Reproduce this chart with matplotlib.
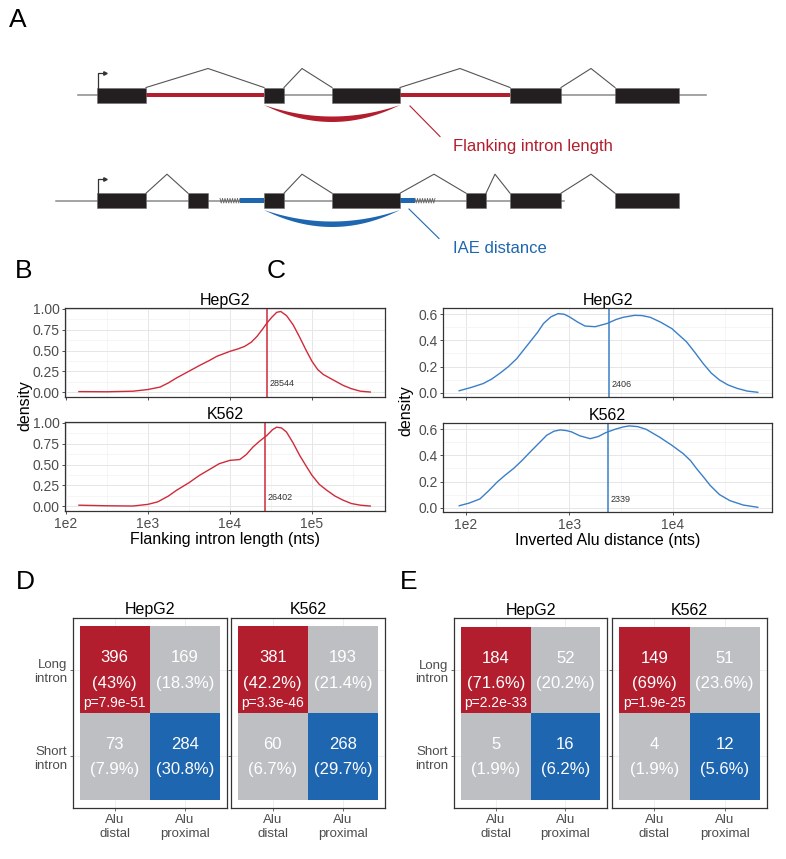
import numpy as np
import matplotlib
matplotlib.use('Agg')
import matplotlib.pyplot as plt

plt.rcParams['font.family'] = ['Liberation Sans', 'DejaVu Sans']

W, H = 786, 859

# ---------------- data ----------------
# panel A gene models (x start, width) in diagram units
row1_exons = [(97, 49), (264, 20), (332, 68), (510, 51), (615, 64)]
row1_flank = [(146, 118), (400, 110)]
row1_hats = [(146, 208, 264), (284, 302, 332), (400, 460, 510), (561, 591, 615)]
row2_exons = [(97, 49), (188, 20), (264, 20), (332, 68), (466, 20), (510, 51), (615, 64)]
row2_iae = [(240, 24), (400, 15)]
row2_hats = [(146, 167, 188), (284, 302, 332), (400, 434, 466), (486, 495, 510), (561, 591, 615)]

# panel B: flanking intron length density (x = log10 nts)
flank_hep_x = [2.16, 2.5, 2.82, 3.0, 3.15, 3.25, 3.35, 3.5, 3.63, 3.75, 3.84, 3.92, 4.0, 4.1, 4.18,
               4.26, 4.33, 4.4, 4.45, 4.51, 4.57, 4.62, 4.69, 4.77, 4.85, 4.93, 5.0, 5.07, 5.14,
               5.25, 5.38, 5.48, 5.59, 5.71]
flank_hep_y = [0.005, 0.003, 0.01, 0.03, 0.06, 0.11, 0.17, 0.25, 0.32, 0.38, 0.43, 0.46, 0.49, 0.52,
               0.55, 0.6, 0.67, 0.76, 0.83, 0.9, 0.96, 0.97, 0.92, 0.81, 0.66, 0.5, 0.37, 0.27, 0.21,
               0.15, 0.08, 0.04, 0.01, 0.0]
flank_k562_x = [2.16, 2.5, 2.82, 3.0, 3.12, 3.25, 3.35, 3.5, 3.63, 3.75, 3.87, 4.0, 4.12, 4.2, 4.28,
                4.36, 4.45, 4.52, 4.57, 4.63, 4.69, 4.77, 4.85, 4.93, 5.0, 5.09, 5.18, 5.28, 5.38,
                5.48, 5.59, 5.71]
flank_k562_y = [0.01, 0.003, 0.0, 0.02, 0.05, 0.12, 0.19, 0.28, 0.37, 0.44, 0.51, 0.55, 0.56, 0.62,
                0.71, 0.78, 0.85, 0.92, 0.95, 0.94, 0.89, 0.76, 0.61, 0.48, 0.37, 0.26, 0.19, 0.12,
                0.07, 0.03, 0.01, 0.0]
flank_median = [28544, 26402]

# panel C: inverted Alu distance density (x = log10 nts)
iae_hep_x = [1.935, 2.05, 2.167, 2.25, 2.33, 2.41, 2.49, 2.55, 2.62, 2.69, 2.75, 2.82, 2.89, 2.95,
             3.0, 3.08, 3.15, 3.25, 3.365, 3.45, 3.52, 3.63, 3.7, 3.78, 3.88, 3.99, 4.06, 4.13,
             4.21, 4.29, 4.37, 4.45, 4.53, 4.62, 4.72, 4.82]
iae_hep_y = [0.015, 0.04, 0.07, 0.105, 0.15, 0.2, 0.26, 0.32, 0.39, 0.46, 0.53, 0.58, 0.605, 0.6,
             0.58, 0.54, 0.51, 0.505, 0.53, 0.56, 0.577, 0.592, 0.59, 0.577, 0.54, 0.49, 0.44,
             0.39, 0.31, 0.225, 0.15, 0.097, 0.06, 0.033, 0.012, 0.003]
iae_k562_x = [1.935, 2.03, 2.135, 2.22, 2.3, 2.38, 2.46, 2.54, 2.62, 2.7, 2.78, 2.85, 2.91, 2.97,
              3.02, 3.1, 3.2, 3.28, 3.35, 3.44, 3.52, 3.58, 3.66, 3.74, 3.87, 3.99, 4.1, 4.17,
              4.23, 4.3, 4.36, 4.45, 4.55, 4.68, 4.82]
iae_k562_y = [0.015, 0.035, 0.067, 0.13, 0.195, 0.25, 0.3, 0.36, 0.426, 0.49, 0.554, 0.585, 0.595,
              0.59, 0.58, 0.55, 0.528, 0.545, 0.574, 0.6, 0.618, 0.626, 0.62, 0.6, 0.54, 0.477,
              0.413, 0.36, 0.297, 0.23, 0.17, 0.1, 0.054, 0.02, 0.003]
iae_median = [2406, 2339]

# panels D / E: 2x2 tables (rows: long/short intron, cols: Alu distal/proximal)
cells = ['HepG2', 'K562']
row_labels = ['Long\nintron', 'Short\nintron']
col_labels = ['Alu\ndistal', 'Alu\nproximal']
d_hep_n = [[396, 169], [73, 284]]
d_hep_pct = [['43%', '18.3%'], ['7.9%', '30.8%']]
d_hep_p = 'p=7.9e-51'
d_k562_n = [[381, 193], [60, 268]]
d_k562_pct = [['42.2%', '21.4%'], ['6.7%', '29.7%']]
d_k562_p = 'p=3.3e-46'
e_hep_n = [[184, 52], [5, 16]]
e_hep_pct = [['71.6%', '20.2%'], ['1.9%', '6.2%']]
e_hep_p = 'p=2.2e-33'
e_k562_n = [[149, 51], [4, 12]]
e_k562_pct = [['69%', '23.6%'], ['1.9%', '5.6%']]
e_k562_p = 'p=1.9e-25'

RED = '#B21E2E'
BLUE = '#1F66B0'
GREY = '#BEBFC3'
RED_LINE = '#D02A3A'
BLUE_LINE = '#3A7FC8'
EXON = '#231F20'
TXT = '#4D4D4D'


def px_axes(x0, y0, x1, y1):
    return fig.add_axes([x0 / W, 1 - y1 / H, (x1 - x0) / W, (y1 - y0) / H])


fig = plt.figure(figsize=(W / 100, H / 100), dpi=100)

# ---------------- panel A ----------------
ax = px_axes(0, 40, W, 262)
ax.set_xlim(0, W)
ax.set_ylim(262, 40)
ax.axis('off')


def gene_row(yc, x0, x1, exons, bars, bar_color, hats):
    ax.plot([x0, x1], [yc, yc], color='#8A8A8A', lw=1.1, zorder=1)
    ax.broken_barh(bars, (yc - 2.3, 4.6), facecolors=bar_color, zorder=2)
    ax.broken_barh(exons, (yc - 7.5, 15), facecolors=EXON, edgecolors='#6E6E6E', lw=0.4, zorder=3)
    for a, m, b in hats:
        ax.plot([a, m, b], [yc - 7.5, yc - 26.5, yc - 7.5], color='#555555', lw=0.8, zorder=1)
    # TSS arrow
    ax.plot([97.5, 97.5, 104], [yc - 7.5, yc - 22, yc - 22], color='#333333', lw=0.9, zorder=3)
    ax.plot([105], [yc - 22], marker='>', ms=2.5, color='#333333', zorder=3)


def crescent(x0, x1, y_end, depth_top, depth_bot, color):
    t = np.linspace(-1, 1, 60)
    xs = x0 + (t + 1) / 2 * (x1 - x0)
    top = y_end + depth_top * (1 - t ** 2)
    bot = y_end + depth_bot * (1 - t ** 2)
    ax.fill(np.r_[xs, xs[::-1]], np.r_[top, bot[::-1]], color=color, lw=0, zorder=2)


gene_row(95, 78, 706, row1_exons, row1_flank, RED, row1_hats)
crescent(264, 400, 105, 11.5, 17, RED)
ax.plot([410, 440], [106, 136.5], color=RED, lw=0.8)
ax.text(453, 146.7, 'Flanking intron length', color=RED, fontsize=12, va='center', ha='left')

gene_row(200.7, 56, 564, row2_exons, row2_iae, BLUE, row2_hats)
for z0 in (220, 415):
    zx = np.linspace(z0, z0 + 20, 17)
    zy = 200.7 + np.where(np.arange(17) % 2 == 0, -2.4, 2.4)
    ax.plot(zx, zy, color='#666666', lw=0.6, zorder=2)
crescent(264, 400, 210, 11.5, 17, BLUE)
ax.plot([409, 439], [209, 238.5], color=BLUE, lw=0.8)
ax.text(453, 248.3, 'IAE distance', color=BLUE, fontsize=12, va='center', ha='left')


# ---------------- panels B and C ----------------
def density_panel(rect, xs, ys, med, color, xlim, ylim, yticks, yfmt, show_x, title, ax_xticks):
    a = px_axes(*rect)
    a.plot(xs, ys, color=color, lw=1.0)
    a.axvline(np.log10(med), color=color, lw=1.1)
    a.text(np.log10(med) + (xlim[1] - xlim[0]) * 0.008, ylim[1] * 0.1, str(med),
           fontsize=6.5, color='#333333', va='center', ha='left')
    a.set_xlim(*xlim)
    a.set_ylim(*ylim)
    a.set_xticks(ax_xticks)
    a.set_xticks([v + 0.5 for v in ax_xticks[:-1]] + [ax_xticks[-1] + 0.5], minor=True)
    a.set_yticks(yticks)
    a.set_yticks([(yticks[i] + yticks[i + 1]) / 2 for i in range(len(yticks) - 1)], minor=True)
    a.set_yticklabels([yfmt.format(v) for v in yticks], fontsize=10, color=TXT)
    if show_x:
        a.set_xticklabels(['1e%d' % v for v in ax_xticks], fontsize=10, color=TXT)
    else:
        a.set_xticklabels([])
    a.grid(which='major', color='#E6E6E6', lw=0.7)
    a.grid(which='minor', color='#F2F2F2', lw=0.5)
    a.set_axisbelow(True)
    a.tick_params(which='major', length=2.5, width=0.6, color='#333333', pad=1.5)
    a.tick_params(which='minor', length=0)
    for s in a.spines.values():
        s.set_color('#333333')
        s.set_linewidth(0.9)
    a.set_title(title, fontsize=11.5, pad=2.5)
    return a


b_xlim = (1.99, 5.89)
b_ylim = (-0.06, 1.012)
b_yt = [0.0, 0.25, 0.5, 0.75, 1.0]
density_panel((65, 308, 385, 397), flank_hep_x, flank_hep_y, flank_median[0], RED_LINE,
              b_xlim, b_ylim, b_yt, '{:.2f}', False, cells[0], [2, 3, 4, 5])
ab = density_panel((65, 422, 385, 511), flank_k562_x, flank_k562_y, flank_median[1], RED_LINE,
                   b_xlim, b_ylim, b_yt, '{:.2f}', True, cells[1], [2, 3, 4, 5])
ab.set_xlabel('Flanking intron length (nts)', fontsize=11.5, labelpad=1)
fig.text(25 / W, 1 - 406 / H, 'density', rotation=90, fontsize=11.5, ha='center', va='center')

c_xlim = (1.778, 4.957)
c_ylim = (-0.033, 0.648)
c_yt = [0.0, 0.2, 0.4, 0.6]
density_panel((443, 308, 772, 397), iae_hep_x, iae_hep_y, iae_median[0], BLUE_LINE,
              c_xlim, c_ylim, c_yt, '{:.1f}', False, cells[0], [2, 3, 4])
ac = density_panel((443, 423, 772, 512), iae_k562_x, iae_k562_y, iae_median[1], BLUE_LINE,
                   c_xlim, c_ylim, c_yt, '{:.1f}', True, cells[1], [2, 3, 4])
ac.set_xlabel('Inverted Alu distance (nts)', fontsize=11.5, labelpad=1)
fig.text(406 / W, 1 - 411 / H, 'density', rotation=90, fontsize=11.5, ha='center', va='center')


# ---------------- panels D and E ----------------
tile_colors = [[RED, GREY], [GREY, BLUE]]


def table_panel(rect, counts, pcts, pval, title, show_y):
    a = px_axes(*rect)
    for r in range(2):
        a.bar([1, 2], [1, 1], bottom=[r + 0.5, r + 0.5], width=1,
              color=tile_colors[r], lw=0, zorder=2)
        for c in range(2):
            a.text(c + 1, r + 1 - 0.14, str(counts[r][c]), color='white', fontsize=12,
                   ha='center', va='center', zorder=3)
            a.text(c + 1, r + 1 + 0.155, '(' + pcts[r][c] + ')', color='white', fontsize=12,
                   ha='center', va='center', zorder=3)
    a.text(1, 1.385, pval, color='white', fontsize=10, ha='center', va='center', zorder=3)
    a.set_xlim(0.4, 2.6)
    a.set_ylim(2.6, 0.4)
    a.set_xticks([1, 2])
    a.set_xticklabels(col_labels, fontsize=9.5, color=TXT, linespacing=1.2)
    a.set_yticks([1, 2])
    if show_y:
        a.set_yticklabels(row_labels, fontsize=9.5, color=TXT, linespacing=1.2)
    else:
        a.set_yticklabels([])
    a.tick_params(length=2.5, width=0.6, color='#555555', pad=1.5)
    a.grid(color='#EDEDED', lw=0.6)
    a.set_axisbelow(True)
    for s in a.spines.values():
        s.set_color('#333333')
        s.set_linewidth(0.9)
    a.set_title(title, fontsize=11.5, pad=2.5)
    return a


table_panel((72.7, 617.7, 226.7, 808.3), d_hep_n, d_hep_pct, d_hep_p, cells[0], True)
table_panel((230.7, 617.7, 385, 808.3), d_k562_n, d_k562_pct, d_k562_p, cells[1], False)
table_panel((454, 618.3, 607.3, 808.3), e_hep_n, e_hep_pct, e_hep_p, cells[0], True)
table_panel((612.3, 618.3, 766.7, 808.3), e_k562_n, e_k562_pct, e_k562_p, cells[1], False)

# panel letters
for lab, x, y in [('A', 9, 27), ('B', 15, 278), ('C', 267, 278), ('D', 16, 589), ('E', 400, 589)]:
    fig.text(x / W, 1 - y / H, lab, fontsize=19, ha='left', va='baseline')

fig.savefig('out.png', dpi=100)
